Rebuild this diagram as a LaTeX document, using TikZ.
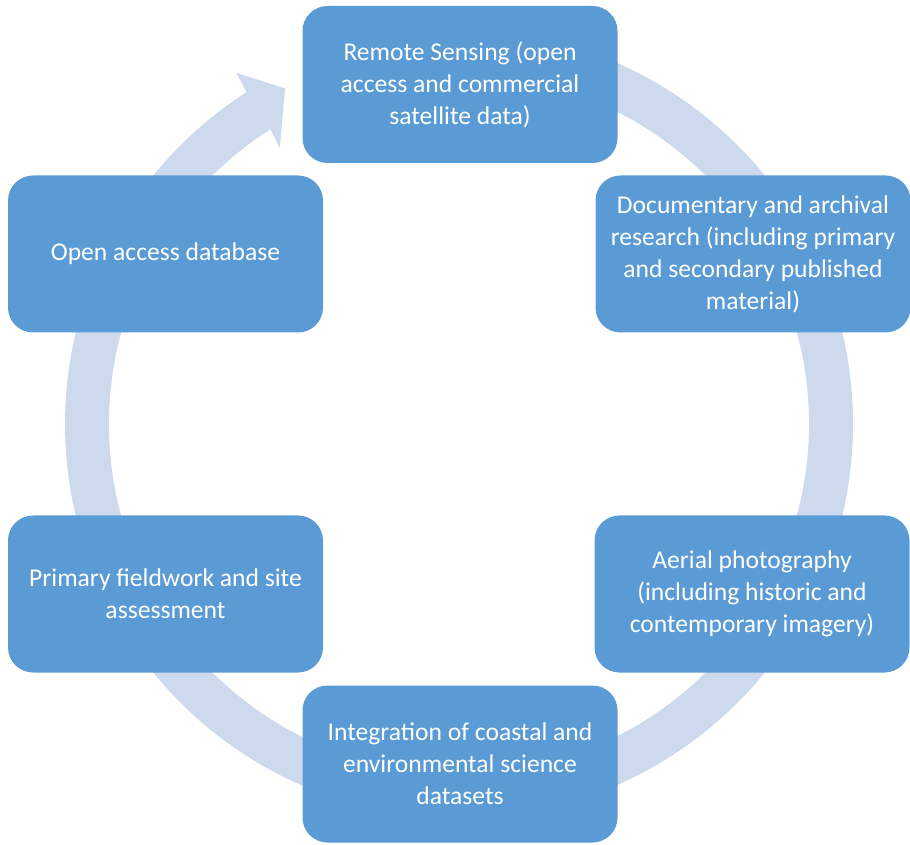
\documentclass[tikz,border=0pt]{standalone}
\usepackage{fontspec}
\setmainfont{Carlito}
\definecolor{boxblue}{RGB}{91,155,213}
\definecolor{ringblue}{RGB}{205,218,238}
\begin{document}
\begin{tikzpicture}[x=1pt,y=1pt,
  cyclebox/.style={fill=boxblue, rounded corners=25pt, minimum width=315pt, minimum height=157pt,
    text=white, align=center, font=\fontsize{25.6}{32}\selectfont, inner sep=0pt}]
\useasboundingbox (0,0) rectangle (910,844);
% circular arrow
\coordinate (c) at (459,420);
\fill[ringblue, shift={(c)}]
  (90:394pt) arc[start angle=90, end angle=-237.4, radius=394pt]
  -- (-237.6:416pt) -- (-242.6:378pt) -- (-237.0:329pt) -- (-237.4:350pt)
  arc[start angle=-237.4, end angle=90, radius=350pt] -- cycle;
% boxes
\node[cyclebox] (rs) at (460,759.5) {Remote Sensing (open\\access and commercial\\satellite data)};
\node[cyclebox] (doc) at (753,590) {Documentary and archival\\research (including primary\\and secondary published\\material)};
\node[cyclebox] (aer) at (752,250) {Aerial photography\\(including historic and\\contemporary imagery)};
\node[cyclebox] (int) at (460,80) {Integration of coastal and\\environmental science\\datasets};
\node[cyclebox] (pf) at (165.5,250) {Primary fieldwork and site\\assessment};
\node[cyclebox] (oa) at (165.5,590) {Open access database};
\end{tikzpicture}
\end{document}
